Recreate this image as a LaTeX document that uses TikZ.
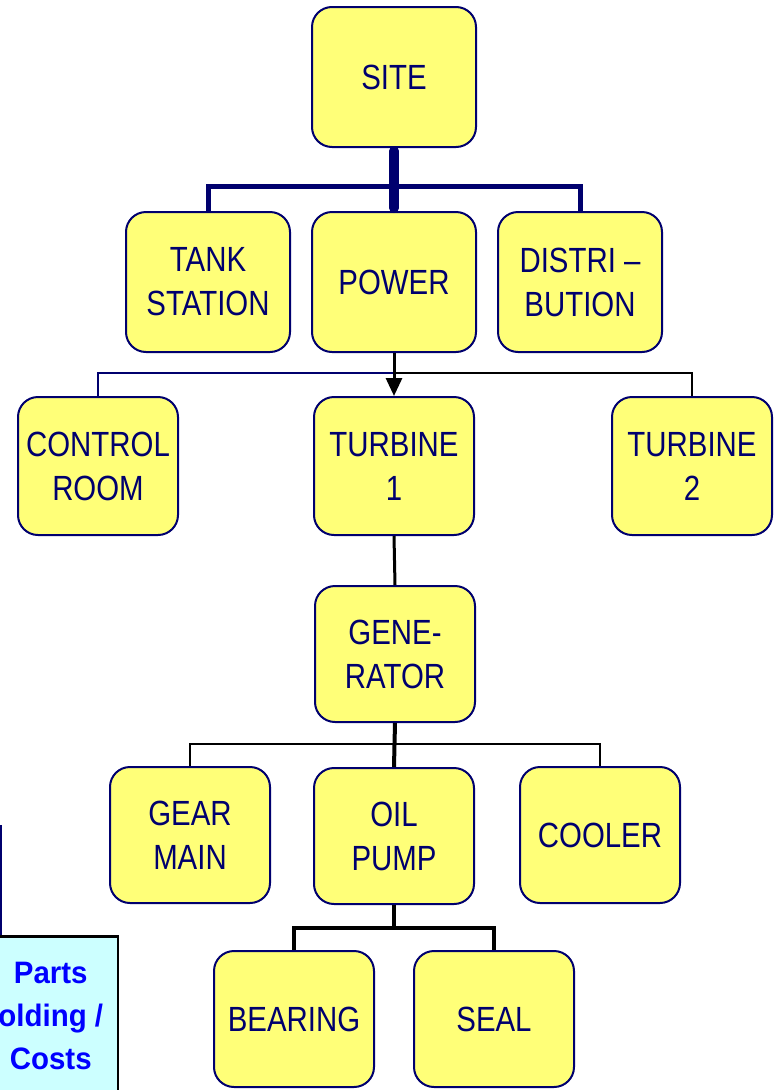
\documentclass[tikz,border=0pt]{standalone}
\usepackage{fontspec}
\usepackage{tikz}
\usetikzlibrary{arrows.meta}
\usepackage{xcolor}
\newfontfamily\boxfont{Liberation Sans}[FakeStretch=0.84]
\newfontfamily\partsfont{Liberation Sans}[FakeStretch=0.95]
\definecolor{boxfill}{RGB}{255,255,120}
\definecolor{boxline}{RGB}{0,0,110}
\definecolor{partsfill}{RGB}{204,255,255}

\begin{document}
\begin{tikzpicture}[x=1pt,y=-1pt,>={Triangle[length=18pt,width=16pt]},
  unit/.style={draw=boxline,line width=2pt,fill=boxfill,rounded corners=20pt,
    minimum width=160pt,minimum height=136pt,inner sep=0pt,align=center,
    text=boxline,font=\boxfont\fontsize{35}{44}\selectfont},
  bigunit/.style={unit,minimum width=164pt,minimum height=140pt}]
\useasboundingbox (0,0) rectangle (776,1090);
\clip (0,0) rectangle (776,1090);
\node[bigunit] (site) at (394,77) {SITE};
\node[bigunit] (tank) at (208,282) {TANK\\STATION};
\node[bigunit] (power) at (394,282) {POWER};
\node[bigunit] (distri) at (580,282) {DISTRI –\\BUTION};
\node[unit,minimum height=138pt] (control) at (98,466) {CONTROL\\ROOM};
\node[unit,minimum height=138pt] (turbine1) at (394,466) {TURBINE\\1};
\node[unit,minimum height=138pt] (turbine2) at (692,466) {TURBINE\\2};
\node[unit] (generator) at (395,654) {GENE-\\RATOR};
\node[unit] (gear) at (190,835) {GEAR\\MAIN};
\node[unit] (oilpump) at (394,836) {OIL\\PUMP};
\node[unit] (cooler) at (600,835) {COOLER};
\node[unit] (bearing) at (294,1019) {BEARING};
\node[unit] (seal) at (494,1019) {SEAL};
\node[draw=black,line width=2.5pt,fill=partsfill,minimum width=134pt,minimum height=160pt,
  anchor=north east,align=center,inner sep=0pt,text=blue,
  font=\partsfont\bfseries\fontsize{31}{43}\selectfont] (parts) at (119,935) {Parts\\olding /\\Costs};
\coordinate (bus1) at (394,186);
\coordinate (bus2) at (394,373);
\coordinate (bus3) at (394,744);
\coordinate (bus4) at (394,928);
\coordinate (partsup) at (1,825);
\draw[boxline,line width=5pt] (tank.north) |- (bus1) -| (distri.north);
\draw[boxline,line width=10pt,line cap=round,shorten <=3pt,shorten >=3pt] (site.south) -- (power.north);
\draw[boxline,line width=2pt] (control.north) |- (bus2);
\draw[black,line width=2.5pt] (bus2) -| (turbine2.north);
\draw[black,line width=3pt,->] (power.south) -- (turbine1.north);
\draw[black,line width=3pt] (turbine1.south) -- (generator.north);
\draw[black,line width=2.5pt] (gear.north) |- (bus3) -| (cooler.north);
\draw[black,line width=4pt] (generator.south) -- (oilpump.north);
\draw[black,line width=4pt] (oilpump.south) -- (bus4);
\draw[black,line width=4pt] (bearing.north) |- (bus4) -| (seal.north);
\draw[boxline,line width=2.5pt] (partsup) -- (partsup |- parts.north);
\end{tikzpicture}
\end{document}
